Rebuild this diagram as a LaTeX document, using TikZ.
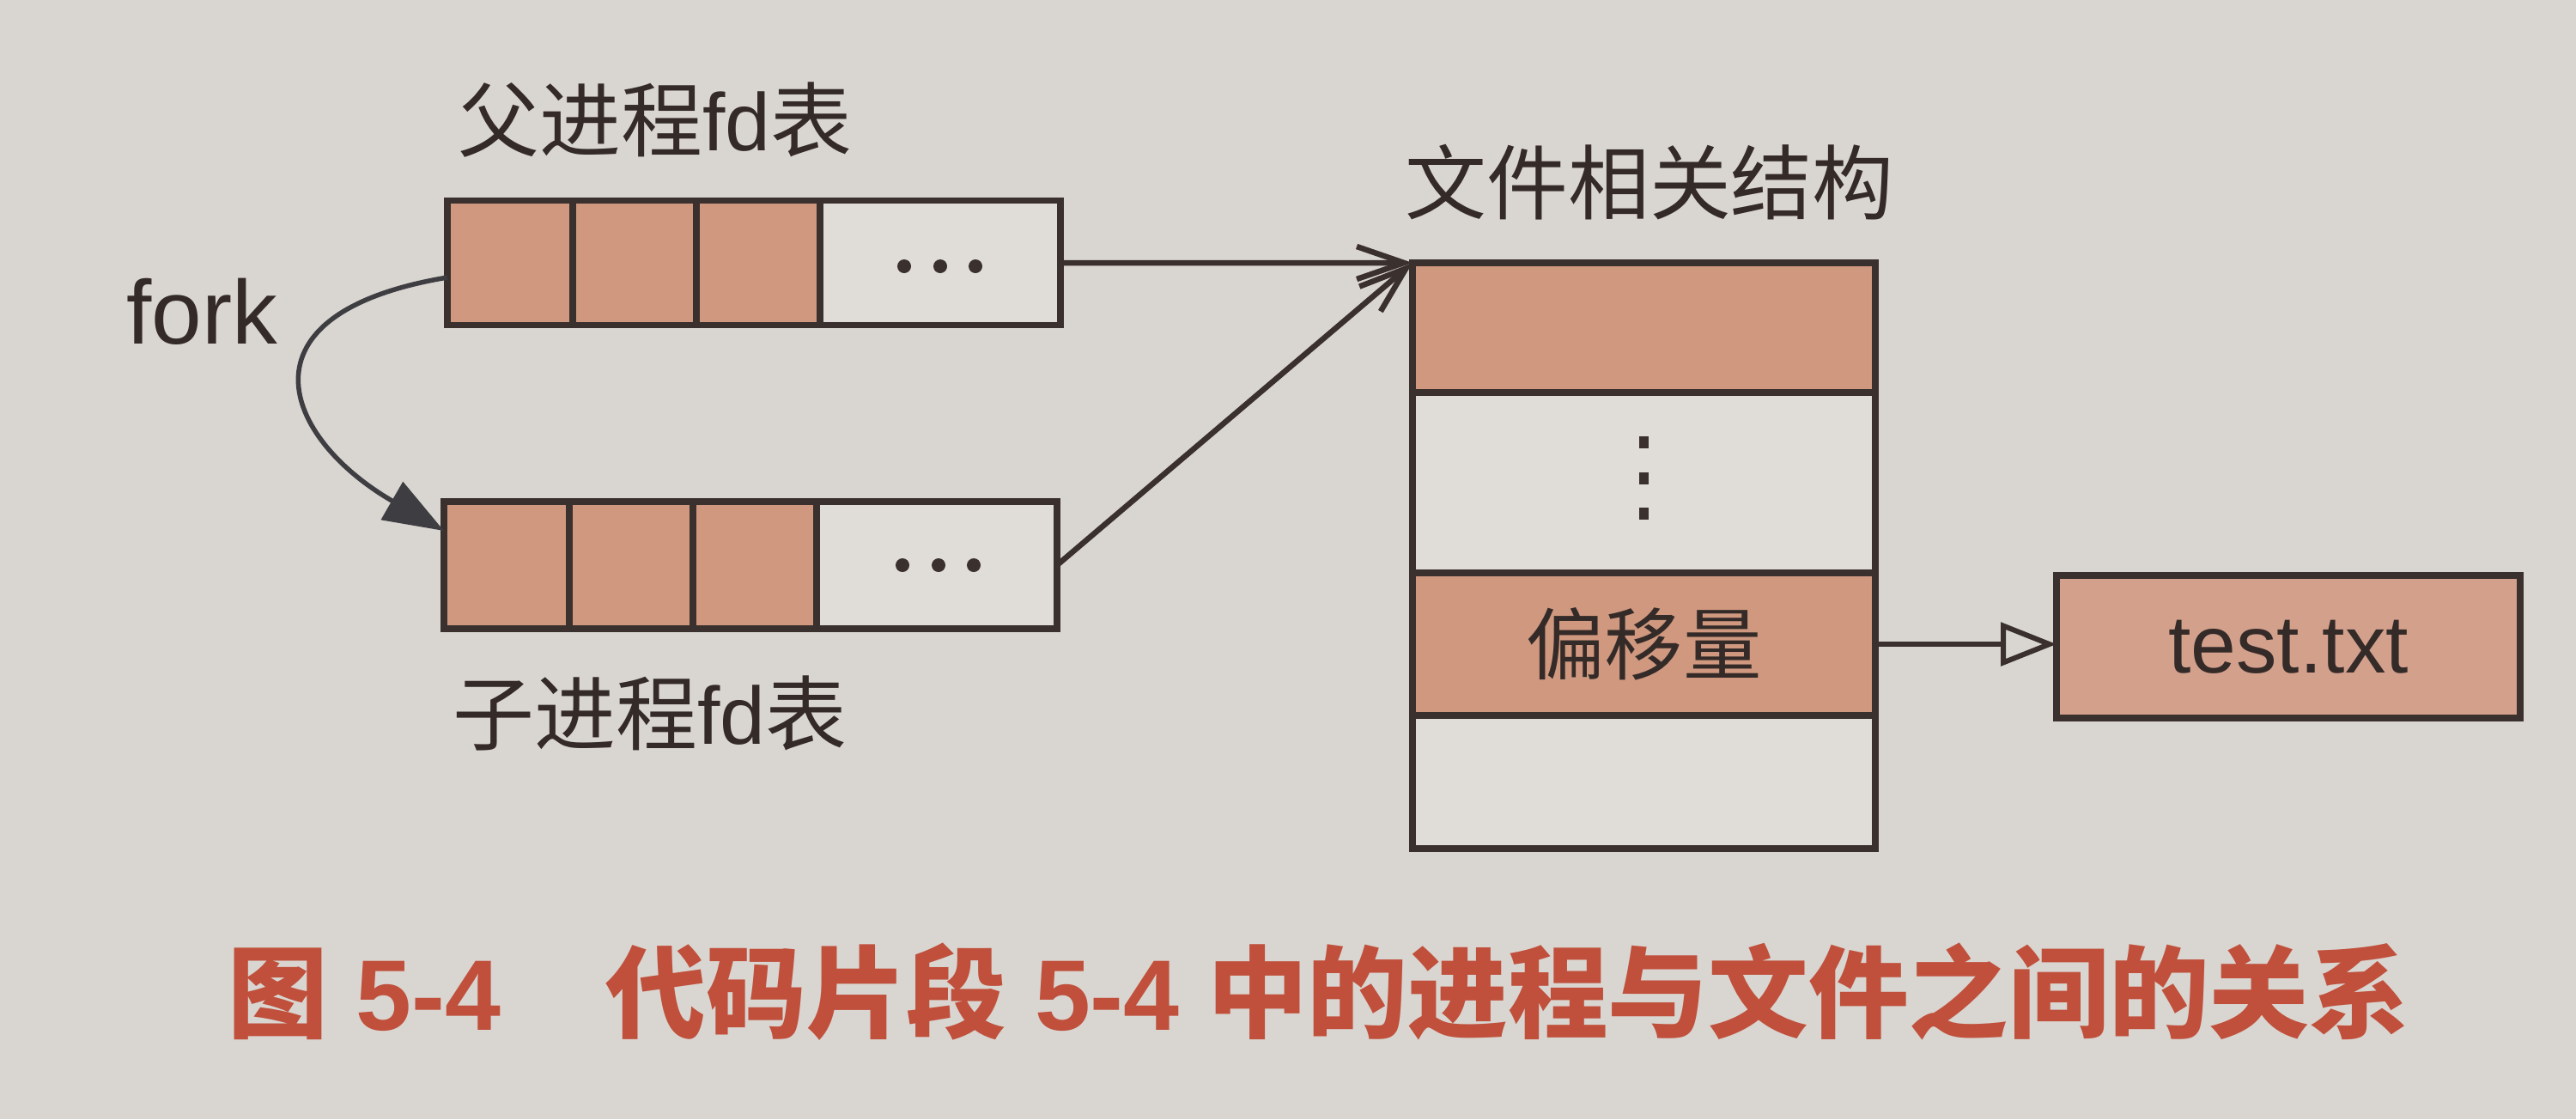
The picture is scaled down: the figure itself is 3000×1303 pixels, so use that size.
\documentclass[tikz,border=0pt]{standalone}
\usepackage{fontspec}
\setmainfont{Liberation Sans}
\newfontfamily\cjk{Noto Sans CJK SC}
\usetikzlibrary{arrows.meta}
\definecolor{bg}{HTML}{D9D5D0}
\definecolor{cellfill}{HTML}{CF987F}
\definecolor{filefill}{HTML}{D3A08C}
\definecolor{ink}{HTML}{3A302E}
\definecolor{capred}{HTML}{C0503C}
\definecolor{forkgray}{HTML}{3E3E42}
\begin{document}
\begin{tikzpicture}[x=0.1mm,y=-0.1mm,
  cell/.style={draw=ink, line width=0.75mm, rectangle, outer sep=0pt, inner sep=0pt},
  full/.style={cell, fill=cellfill},
  blank/.style={cell, fill=bg!82!white},
  lbl/.style={font=\fontsize{27}{30}\selectfont, text=ink!90!black, inner sep=0pt},
  conn/.style={draw=ink, line width=0.65mm, -{Straight Barb[length=5.5mm,width=3.8mm]}},
  dot/.style={fill=ink}
]
% background / bounding box
\fill[bg] (0,0) rectangle (3000,1303);
\useasboundingbox (0,0) rectangle (3000,1303);

% parent fd table
\node[full, minimum width=14.6mm, minimum height=14.5mm] (p1) at (594,306) {};
\node[full, minimum width=14.4mm, minimum height=14.5mm] (p2) at (739,306) {};
\node[full, minimum width=14.4mm, minimum height=14.5mm] (p3) at (883,306) {};
\node[blank, minimum width=28.0mm, minimum height=14.5mm] (p4) at (1095,306) {};
\foreach \dx in {-42,0,41} \fill[dot] ([xshift=\dx*0.1mm,yshift=-0.4mm]p4.center) circle (0.8mm);

% child fd table
\node[full, minimum width=14.6mm, minimum height=14.8mm] (c1) at (590,658) {};
\node[full, minimum width=14.4mm, minimum height=14.8mm] (c2) at (735,658) {};
\node[full, minimum width=14.4mm, minimum height=14.8mm] (c3) at (879,658) {};
\node[blank, minimum width=28.0mm, minimum height=14.8mm] (c4) at (1091,658) {};
\foreach \dx in {-40,2,43} \fill[dot] ([xshift=\dx*0.1mm]c4.center) circle (0.8mm);

% labels
\node[lbl] (plbl) at (763,140) {{\cjk 父进程}fd{\cjk 表}};
\node[lbl] (clbl) at (757,830) {{\cjk 子进程}fd{\cjk 表}};
\node[lbl] (slbl) at (1921,212) {\cjk 文件相关结构};
\node[lbl, font=\fontsize{30}{34}\selectfont] (forklbl) at (235,363) {fork};

% file structure
\node[full, minimum width=53.9mm, minimum height=15.1mm] (s1) at (1914.5,381.5) {};
\node[blank, minimum width=53.9mm, minimum height=21.0mm] (s2) at (1914.5,562) {};
\node[full, minimum width=53.9mm, minimum height=16.6mm, font=\fontsize{26}{30}\selectfont, text=ink!90!black] (s3) at (1914.5,750) {\cjk 偏移量};
\node[blank, minimum width=53.9mm, minimum height=15.5mm] (s4) at (1914.5,910.5) {};
\foreach \dy in {-47,-5,36} \fill[dot] ([yshift=-\dy*0.1mm]s2.center) +(-0.55mm,-0.7mm) rectangle +(0.55mm,0.7mm);

% test.txt
\node[full, fill=filefill, minimum width=54mm, minimum height=16.6mm, font=\fontsize{27}{30}\selectfont, text=ink!90!black] (t) at (2665,753) {test.txt};

% connectors
\draw[conn] (p4.east) -- (s1.north west);
\draw[conn] (c4.east) -- (s1.north west);
\draw[draw=ink, line width=0.6mm, -{Triangle[open, length=6.5mm, width=5mm, fill=bg]}] (s3.east) -- (s3.east -| t.west);
\draw[forkgray, line width=0.55mm, -{Triangle[length=7mm,width=5mm]}]
  ([yshift=-1.7mm]p1.west) .. controls (270,365) and (330,510) .. ([yshift=4mm]c1.west);

% caption
\node[font=\fontsize{33.2}{37}\selectfont\bfseries, text=capred, inner sep=0pt] (cap) at (1536,1155)
  {{\cjk 图} 5-4\hspace{1.05em}{\cjk 代码片段} 5-4 {\cjk 中的进程与文件之间的关系}};
\end{tikzpicture}
\end{document}
